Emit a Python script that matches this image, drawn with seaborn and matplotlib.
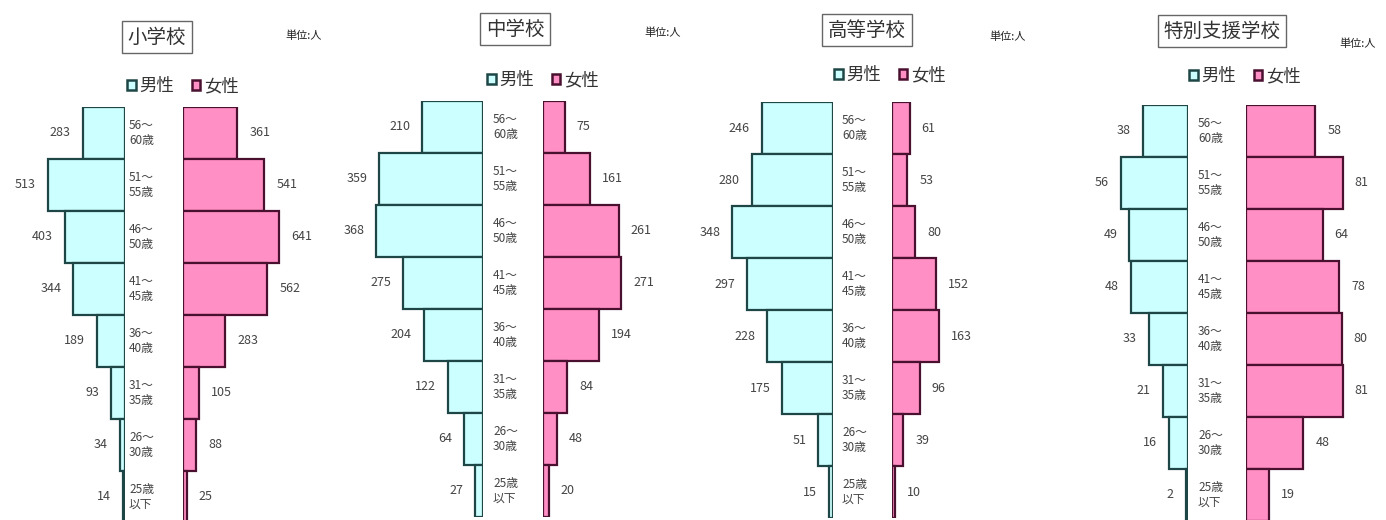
import matplotlib
matplotlib.use('Agg')
import matplotlib.pyplot as plt
from matplotlib.patches import Patch
import seaborn as sns
import pandas as pd

sns.set_style('white')
plt.rcParams['font.family'] = ['Noto Sans CJK JP', 'DejaVu Sans']

# data (top to bottom)
ages = ['56～\n60歳', '51～\n55歳', '46～\n50歳', '41～\n45歳',
        '36～\n40歳', '31～\n35歳', '26～\n30歳', '25歳\n以下']
schools = ['小学校', '中学校', '高等学校', '特別支援学校']
male = {
    '小学校': [283, 513, 403, 344, 189, 93, 34, 14],
    '中学校': [210, 359, 368, 275, 204, 122, 64, 27],
    '高等学校': [246, 280, 348, 297, 228, 175, 51, 15],
    '特別支援学校': [38, 56, 49, 48, 33, 21, 16, 2],
}
female = {
    '小学校': [361, 541, 641, 562, 283, 105, 88, 25],
    '中学校': [75, 161, 261, 271, 194, 84, 48, 20],
    '高等学校': [61, 53, 80, 152, 163, 96, 39, 10],
    '特別支援学校': [58, 81, 64, 78, 80, 81, 48, 19],
}

male_fill = '#CCFFFF'
male_edge = '#1E4646'
female_fill = '#FF8FC4'
female_edge = '#4A1030'
txt = '#444444'

W, H = 1386, 520
fig = plt.figure(figsize=(W / 100, H / 100), dpi=100)

def add_ax(x0, x1, ytop, ybot):
    return fig.add_axes([x0 / W, (H - ybot) / H, (x1 - x0) / W, (ybot - ytop) / H])

# layout per panel: male edge, female edge, top, xmax, title, unit, legend, label offset
layout = [
    dict(me=125, fe=183, top=107, xmax=733, title=(157, 37), unit=(304, 36), leg=(183, 86), lo=4),
    dict(me=483, fe=543, top=101, xmax=380, title=(515, 29), unit=(663, 33), leg=(543, 80), lo=10),
    dict(me=833, fe=892, top=102, xmax=380, title=(867, 30), unit=(1008, 37), leg=(890, 75), lo=9),
    dict(me=1188, fe=1246, top=105, xmax=92, title=(1222, 31), unit=(1358, 44), leg=(1245, 76), lo=10),
]
axw = 110
barh = 52

for s, L in zip(schools, layout):
    df = pd.DataFrame({'age': ages, 'male': male[s], 'female': female[s]})
    ybot = L['top'] + barh * len(ages)
    axm = add_ax(L['me'] - axw, L['me'], L['top'], ybot)
    axf = add_ax(L['fe'], L['fe'] + axw, L['top'], ybot)

    sns.barplot(data=df, x='male', y='age', orient='h', color=male_fill, saturation=1,
                edgecolor=male_edge, linewidth=1.6, width=1.0, ax=axm)
    sns.barplot(data=df, x='female', y='age', orient='h', color=female_fill, saturation=1,
                edgecolor=female_edge, linewidth=1.6, width=1.0, ax=axf)

    axm.set_xlim(L['xmax'], 0)
    axf.set_xlim(0, L['xmax'])
    for ax in (axm, axf):
        ax.set_ylim(len(ages) - 0.5, -0.5)
        ax.set_axis_off()

    for i, (a, m, f) in enumerate(zip(ages, male[s], female[s])):
        axm.annotate(str(m), (m, i), xytext=(-12, 0), textcoords='offset pixels',
                     ha='right', va='center', fontsize=9, color=txt)
        axf.annotate(str(f), (f, i), xytext=(12, 0), textcoords='offset pixels',
                     ha='left', va='center', fontsize=9, color=txt)
        axm.annotate(a, (0, i), xytext=(L['lo'], 0), textcoords='offset pixels',
                     ha='left', va='center', fontsize=8.5, color=txt,
                     linespacing=1.2, annotation_clip=False)

    tx, ty = L['title']
    fig.text(tx / W, 1 - ty / H, s, ha='center', va='center', fontsize=14, color='#333333',
             bbox=dict(boxstyle='square,pad=0.3', facecolor='white', edgecolor='#666666', linewidth=1))
    ux, uy = L['unit']
    fig.text(ux / W, 1 - uy / H, '単位:人', ha='center', va='center', fontsize=8,
             color='#222222')
    lx, ly = L['leg']
    handles = [Patch(facecolor=male_fill, edgecolor=male_edge, linewidth=1.8, label='男性'),
               Patch(facecolor=female_fill, edgecolor=female_edge, linewidth=1.8, label='女性')]
    fig.legend(handles=handles, loc='center', bbox_to_anchor=(lx / W, 1 - ly / H), ncol=2,
               frameon=False, fontsize=12.5, handlelength=0.5, handleheight=0.5,
               handletextpad=0.2, columnspacing=1.0, labelcolor='#333333')

fig.savefig('out.png', dpi=100, facecolor='white')
